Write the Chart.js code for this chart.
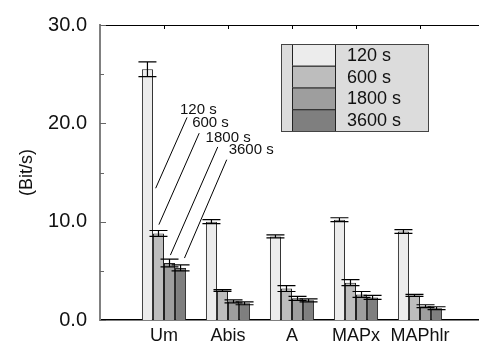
<!DOCTYPE html>
<html lang="en">
<head>
  <meta charset="UTF-8">
  <title>Bit/s per interface</title>
  <style>
    body { margin: 0; background: #ffffff; overflow: hidden; }
    #wrap { width: 479px; height: 345px; overflow: hidden; }
  </style>
</head>
<body>
  <div id="wrap"><canvas id="chart" width="489" height="345"></canvas></div>

  <script src="https://cdn.jsdelivr.net/npm/chart.js@4"></script>
  <script>
    // categories (empty slots at both ends give the open space left and right)
    const categories = ["", "Um", "Abis", "A", "MAPx", "MAPhlr", ""];
    const seriesNames = ["120 s", "600 s", "1800 s", "3600 s"];

    // values (Bit/s)
    const v120 = [null, 25.5, 10.0, 8.5, 10.2, 9.0, null];
    const v600 = [null, 8.8, 3.0, 3.2, 3.8, 2.5, null];
    const v1800 = [null, 5.8, 1.9, 2.2, 2.6, 1.4, null];
    const v3600 = [null, 5.3, 1.7, 2.0, 2.3, 1.2, null];

    // error bar half-heights
    const e120 = [null, 0.75, 0.2, 0.15, 0.2, 0.2, null];
    const e600 = [null, 0.3, 0.08, 0.3, 0.3, 0.1, null];
    const e1800 = [null, 0.4, 0.15, 0.2, 0.3, 0.15, null];
    const e3600 = [null, 0.3, 0.15, 0.15, 0.2, 0.15, null];

    // y axis ticks
    const yMin = 0, yMax = 30, yStep = 5;

    // leader labels: text position and line from/to, in category index / value units
    const annoText = ["120 s", "600 s", "1800 s", "3600 s"];
    const annoTextPos = [[1.25, 21.4], [1.44, 20.0], [1.65, 18.5], [2.01, 17.3]];
    const annoLineFrom = [[1.36, 20.6], [1.55, 19.0], [1.84, 17.6], [1.98, 16.3]];
    const annoLineTo = [[0.87, 13.4], [0.92, 9.7], [1.10, 6.6], [1.32, 6.3]];

    const colors = ["#ececec", "#bdbdbd", "#9e9e9e", "#7f7f7f"];
    const values = [v120, v600, v1800, v3600];
    const errors = [e120, e600, e1800, e3600];

    const fontFam = "'Liberation Sans', Arial, sans-serif";

    const extras = {
      id: "extras",
      afterDatasetsDraw(chart) {
        const ctx = chart.ctx;
        const area = chart.chartArea;
        const xs = chart.scales.x;
        const ys = chart.scales.y;
        ctx.save();

        // top frame line with inward ticks at categories
        ctx.strokeStyle = "#000";
        ctx.lineWidth = 1;
        ctx.beginPath();
        ctx.moveTo(area.left, area.top + 0.5);
        ctx.lineTo(area.right, area.top + 0.5);
        for (let i = 1; i < categories.length - 1; i++) {
          const px = Math.round(xs.getPixelForValue(i)) + 0.5;
          ctx.moveTo(px, area.top);
          ctx.lineTo(px, area.top + 4);
        }
        ctx.stroke();

        // inward y ticks
        ctx.strokeStyle = "#666";
        ctx.beginPath();
        for (let v = yMin; v <= yMax; v += yStep) {
          const py = Math.round(ys.getPixelForValue(v)) + 0.5;
          const len = v % 10 === 0 ? 6 : 4;
          ctx.moveTo(area.left, py);
          ctx.lineTo(area.left + len, py);
        }
        ctx.stroke();

        // error bars
        ctx.strokeStyle = "#000";
        ctx.lineWidth = 1.2;
        values.forEach((vals, d) => {
          const meta = chart.getDatasetMeta(d);
          vals.forEach((v, i) => {
            if (v === null) return;
            const bar = meta.data[i];
            const cx = bar.x;
            const yt = ys.getPixelForValue(v + errors[d][i]);
            const yb = ys.getPixelForValue(v - errors[d][i]);
            ctx.beginPath();
            ctx.moveTo(cx, yt); ctx.lineTo(cx, yb);
            ctx.moveTo(cx - 9, yt); ctx.lineTo(cx + 9, yt);
            ctx.moveTo(cx - 9, yb); ctx.lineTo(cx + 9, yb);
            ctx.stroke();
          });
        });

        // leader labels
        ctx.lineWidth = 1;
        ctx.fillStyle = "#111";
        ctx.font = "15px " + fontFam;
        ctx.textBaseline = "middle";
        ctx.textAlign = "left";
        annoText.forEach((t, k) => {
          ctx.fillText(t, xs.getPixelForValue(annoTextPos[k][0]), ys.getPixelForValue(annoTextPos[k][1]));
          ctx.beginPath();
          ctx.moveTo(xs.getPixelForValue(annoLineFrom[k][0]), ys.getPixelForValue(annoLineFrom[k][1]));
          ctx.lineTo(xs.getPixelForValue(annoLineTo[k][0]), ys.getPixelForValue(annoLineTo[k][1]));
          ctx.stroke();
        });

        // legend box
        const lx = 281, ly = 44, lw = 147, rowH = 21.75;
        ctx.fillStyle = "#dcdcdc";
        ctx.fillRect(lx, ly, lw, rowH * 4);
        seriesNames.forEach((name, k) => {
          ctx.fillStyle = colors[k];
          ctx.fillRect(lx + 11, ly + k * rowH, 43, rowH);
          ctx.strokeStyle = "#222";
          ctx.strokeRect(lx + 11.5, ly + k * rowH + 0.5, 43, rowH);
          ctx.fillStyle = "#111";
          ctx.font = "18px " + fontFam;
          ctx.fillText(name, lx + 66, ly + k * rowH + rowH / 2 + 1);
        });
        ctx.strokeStyle = "#444";
        ctx.strokeRect(lx + 0.5, ly + 0.5, lw, rowH * 4);

        ctx.restore();
      }
    };

    new Chart(document.getElementById("chart"), {
      type: "bar",
      data: {
        labels: categories,
        datasets: seriesNames.map((name, k) => ({
          label: name,
          data: values[k],
          backgroundColor: colors[k],
          borderColor: "#222",
          borderWidth: 1,
          borderSkipped: "bottom",
          categoryPercentage: 0.69,
          barPercentage: 1.0
        }))
      },
      options: {
        responsive: false,
        animation: false,
        layout: { padding: { top: 22, right: 0, left: 0, bottom: 0 } },
        plugins: {
          legend: { display: false },
          tooltip: { enabled: false }
        },
        scales: {
          x: {
            offset: false,
            grid: { display: false, drawTicks: false },
            border: { color: "#000", width: 1.5 },
            ticks: {
              color: "#111",
              font: { family: fontFam, size: 18 },
              padding: 5,
              maxRotation: 0,
              autoSkip: false
            },
            afterFit(scale) { scale.height = 24; }
          },
          y: {
            min: yMin,
            max: yMax,
            grid: { display: false, drawTicks: false },
            border: { color: "#808080", width: 2 },
            ticks: {
              stepSize: yStep,
              color: "#111",
              padding: 13,
              font: { family: fontFam, size: 20 },
              callback: (v) => (v % 10 === 0 ? v.toFixed(1) : "")
            },
            title: {
              display: true,
              text: "(Bit/s)",
              color: "#111",
              font: { family: fontFam, size: 18 },
              padding: { top: 16, bottom: 0 }
            },
            afterFit(scale) { scale.width = 100; }
          }
        }
      },
      plugins: [extras]
    });
  </script>
</body>
</html>
